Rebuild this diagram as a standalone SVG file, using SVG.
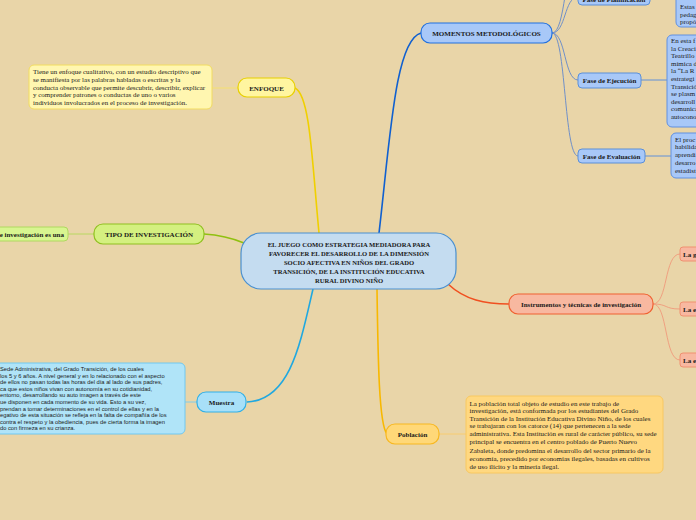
<svg xmlns="http://www.w3.org/2000/svg" width="696" height="520" viewBox="0 0 696 520">
<style>
.t{font-family:"Liberation Serif","Times New Roman",serif;fill:#1a1a1a}
.b{font-weight:bold;font-size:7px;text-anchor:middle}
.d{font-size:6.95px}
.s{font-family:"Liberation Sans",Arial,sans-serif;font-size:5.75px;fill:#1a1a1a}
.c{fill:none}
</style>
<rect width="696" height="520" fill="#E9D5A8"/>
<g id="connectors" class="c">
<path d="M319,233 C312,160 310,95 295,88" stroke="#F0D000" stroke-width="1.6"/>
<path d="M212,88 L238,88" stroke="#F5E070" stroke-width="1"/>
<path d="M379,233 C390,140 395,40 421,33" stroke="#1060D0" stroke-width="1.6"/>
<path d="M204,234 C220,235 232,238 244,243" stroke="#90C010" stroke-width="1.6"/>
<path d="M68,234 L94,234" stroke="#B8D860" stroke-width="1"/>
<path d="M313,289 C300,345 290,400 247,402" stroke="#20A8E0" stroke-width="1.6"/>
<path d="M185,402 L197,402" stroke="#80CCE8" stroke-width="1"/>
<path d="M377,289 C378,360 379,425 387,434" stroke="#F8B800" stroke-width="1.6"/>
<path d="M439,434 L466,434" stroke="#F8CC70" stroke-width="1"/>
<path d="M448,284 C465,300 485,304 509,304" stroke="#F05020" stroke-width="1.6"/>
<path d="M653,304 C668,304 664,254 680,254" stroke="#F0A080" stroke-width="1"/>
<path d="M653,304 C668,304 664,309 680,309" stroke="#F0A080" stroke-width="1"/>
<path d="M653,304 C668,304 664,360 680,360" stroke="#F0A080" stroke-width="1"/>
<path d="M552,33 C566,33 564,-3 578,-3" stroke="#7090C8" stroke-width="1"/>
<path d="M552,33 C566,33 564,-40 578,-40" stroke="#7090C8" stroke-width="1"/>
<path d="M552,33 C566,33 564,80 578,80" stroke="#7090C8" stroke-width="1"/>
<path d="M552,33 C566,33 564,156 578,156" stroke="#7090C8" stroke-width="1"/>
<path d="M650,-3 L676,-3" stroke="#6090D8" stroke-width="1"/>
<path d="M641,80 L667,80" stroke="#6090D8" stroke-width="1"/>
<path d="M645,156 L671,156" stroke="#6090D8" stroke-width="1"/>
</g>
<g id="center">
<rect x="241" y="233" width="215" height="56" rx="20" fill="#C4DCF0" stroke="#4A90D0" stroke-width="1.2"/>
<text class="t b" x="349" y="247" style="font-size:6.6px">EL JUEGO COMO ESTRATEGIA MEDIADORA PARA</text>
<text class="t b" x="349" y="256" style="font-size:6.6px">FAVORECER EL DESARROLLO DE LA DIMENSIÓN</text>
<text class="t b" x="349" y="265" style="font-size:6.6px">SOCIO AFECTIVA EN NIÑOS DEL GRADO</text>
<text class="t b" x="349" y="274" style="font-size:6.6px">TRANSICIÓN, DE LA INSTITUCIÓN EDUCATIVA</text>
<text class="t b" x="349" y="283" style="font-size:6.6px">RURAL DIVINO NIÑO</text>
</g>
<g id="enfoque">
<rect x="238" y="78" width="57" height="19" rx="9" fill="#FFF5A0" stroke="#E8D000" stroke-width="1.2"/>
<text class="t b" x="266.5" y="90.5">ENFOQUE</text>
</g>
<g id="enfoque-desc">
<rect x="29" y="65" width="183" height="44" rx="5" fill="#FFF6B0" stroke="#F2DC60" stroke-width="1"/>
<text class="t d" x="33" y="74">Tiene un enfoque cualitativo, con un estudio descriptivo que</text>
<text class="t d" x="33" y="82">se manifiesta por las palabras habladas o escritas y la</text>
<text class="t d" x="33" y="89.5">conducta observable que permite descubrir, describir, explicar</text>
<text class="t d" x="33" y="97">y comprender patrones o conductas de uno o varios</text>
<text class="t d" x="33" y="104.5">individuos involucrados en el proceso de investigación.</text>
</g>
<g id="tipo">
<rect x="94" y="224" width="110" height="20" rx="9" fill="#D4F080" stroke="#90C020" stroke-width="1.2"/>
<text class="t b" x="149" y="236.5">TIPO DE INVESTIGACIÓN</text>
</g>
<g id="tipo-desc">
<rect x="-10" y="227" width="78" height="14" rx="4" fill="#D8F590" stroke="#B0D860" stroke-width="1"/>
<text class="t" font-weight="bold" font-size="7" x="64" y="236.5" text-anchor="end">e investigación es una</text>
</g>
<g id="muestra">
<rect x="197" y="392" width="49" height="20" rx="9" fill="#A8E0F8" stroke="#30B0E8" stroke-width="1.2"/>
<text class="t b" x="221.5" y="404.5">Muestra</text>
</g>
<g id="muestra-desc">
<rect x="-10" y="363" width="195" height="71" rx="5" fill="#B0E4F8" stroke="#70C8F0" stroke-width="1"/>
<text class="s" x="0" y="371">Sede Administrativa, del Grado Transición, de los cuales</text>
<text class="s" x="0" y="377.6">los 5 y 6 años.  A nivel general y en lo relacionado con el aspecto</text>
<text class="s" x="0" y="384.2">de ellos no pasan todas las horas del día al lado de sus padres,</text>
<text class="s" x="0" y="390.8">ca que estos niños vivan con autonomía en su cotidianidad,</text>
<text class="s" x="0" y="397.4">entorno, desarrollando su auto imagen a través de este</text>
<text class="s" x="0" y="404">ue disponen en cada momento de su vida.  Esto a su vez,</text>
<text class="s" x="0" y="410.6">prendan a tomar determinaciones en el control de ellas y en la</text>
<text class="s" x="0" y="417.2">egativo de esta situación se refleja en la falta de compañía de los</text>
<text class="s" x="0" y="423.8">contra el respeto y la obediencia, pues de cierta forma la imagen</text>
<text class="s" x="0" y="430.4">do con firmeza en su crianza.</text>
</g>
<g id="poblacion">
<rect x="386" y="424" width="53" height="20" rx="9" fill="#FFD878" stroke="#F8B820" stroke-width="1.2"/>
<text class="t b" x="412.5" y="436.5">Población</text>
</g>
<g id="poblacion-desc">
<rect x="466" y="396" width="197" height="77" rx="5" fill="#FFD880" stroke="#F8C860" stroke-width="1"/>
<text class="t d" x="469.5" y="405.5">La población total objeto de estudio en este trabajo de</text>
<text class="t d" x="469.5" y="413">investigación, está conformada por los estudiantes del Grado</text>
<text class="t d" x="469.5" y="420.5">Transición de la Institución Educativa Divino Niño, de los cuales</text>
<text class="t d" x="469.5" y="428">se trabajaran con los catorce (14) que pertenecen a la sede</text>
<text class="t d" x="469.5" y="436">administrativa. Esta Institución es rural de carácter público, su sede</text>
<text class="t d" x="469.5" y="444">principal se encuentra en el centro poblado de Puerto Nuevo</text>
<text class="t d" x="469.5" y="452.5">Zabaleta, donde predomina el desarrollo del sector primario de la</text>
<text class="t d" x="469.5" y="461">economía, precedido por economías ilegales, basadas en cultivos</text>
<text class="t d" x="469.5" y="469">de uso ilícito y la minería ilegal.</text>
</g>
<g id="instrumentos">
<rect x="509" y="294" width="144" height="20" rx="9" fill="#F8B8A0" stroke="#F06030" stroke-width="1.2"/>
<text class="t b" x="581" y="306.5">Instrumentos y técnicas de investigación</text>
</g>
<g id="inst-1">
<rect x="680" y="247" width="30" height="14" rx="3" fill="#F8B8A0" stroke="#F09070" stroke-width="1"/>
<text class="t" font-weight="bold" font-size="7" x="683" y="256.5">La g</text>
</g>
<g id="inst-2">
<rect x="680" y="302" width="30" height="14" rx="3" fill="#F8B8A0" stroke="#F09070" stroke-width="1"/>
<text class="t" font-weight="bold" font-size="7" x="683" y="311.5">La e</text>
</g>
<g id="inst-3">
<rect x="680" y="353" width="30" height="14" rx="3" fill="#F8B8A0" stroke="#F09070" stroke-width="1"/>
<text class="t" font-weight="bold" font-size="7" x="683" y="362.5">La e</text>
</g>
<g id="momentos">
<rect x="421" y="23" width="131" height="20" rx="9" fill="#A8C8F8" stroke="#2070E0" stroke-width="1.2"/>
<text class="t b" x="486.5" y="35.5">MOMENTOS METODOLÓGICOS</text>
</g>
<g id="fase-planificacion">
<rect x="578" y="-12" width="72" height="17" rx="4" fill="#A8C8F8" stroke="#5B8FD8" stroke-width="1"/>
<text class="t b" x="614" y="1.5">Fase de Planificación</text>
</g>
<g id="planificacion-desc">
<rect x="676" y="-20" width="30" height="47" rx="5" fill="#A8C8F8" stroke="#6090E0" stroke-width="1"/>
<text class="t d" x="680" y="9">Estas</text>
<text class="t d" x="680" y="16.5">pedag</text>
<text class="t d" x="680" y="24">propó</text>
</g>
<g id="fase-ejecucion">
<rect x="578" y="73" width="63" height="15" rx="4" fill="#A8C8F8" stroke="#5B8FD8" stroke-width="1"/>
<text class="t b" x="609.5" y="82.5">Fase de Ejecución</text>
</g>
<g id="ejecucion-desc">
<rect x="667" y="35" width="40" height="92" rx="5" fill="#A8C8F8" stroke="#6090E0" stroke-width="1"/>
<text class="t d" x="671" y="43">En esta f</text>
<text class="t d" x="671" y="50.6">la Creaci</text>
<text class="t d" x="671" y="58.2">Teatrillo</text>
<text class="t d" x="671" y="65.8">mímica d</text>
<text class="t d" x="671" y="73.4">la “La R</text>
<text class="t d" x="671" y="81">estrategi</text>
<text class="t d" x="671" y="88.6">Transició</text>
<text class="t d" x="671" y="96.2">se plasm</text>
<text class="t d" x="671" y="103.8">desarroll</text>
<text class="t d" x="671" y="111.4">comunica</text>
<text class="t d" x="671" y="119">autocono</text>
</g>
<g id="fase-evaluacion">
<rect x="578" y="149" width="67" height="14" rx="4" fill="#A8C8F8" stroke="#5B8FD8" stroke-width="1"/>
<text class="t b" x="611.5" y="158.5">Fase de Evaluación</text>
</g>
<g id="evaluacion-desc">
<rect x="671" y="133" width="36" height="45" rx="5" fill="#A8C8F8" stroke="#6090E0" stroke-width="1"/>
<text class="t d" x="675" y="141.5">El proc</text>
<text class="t d" x="675" y="149.3">habilida</text>
<text class="t d" x="675" y="157.1">aprendi</text>
<text class="t d" x="675" y="164.9">desarro</text>
<text class="t d" x="675" y="172.7">estadíst</text>
</g>
</svg>
